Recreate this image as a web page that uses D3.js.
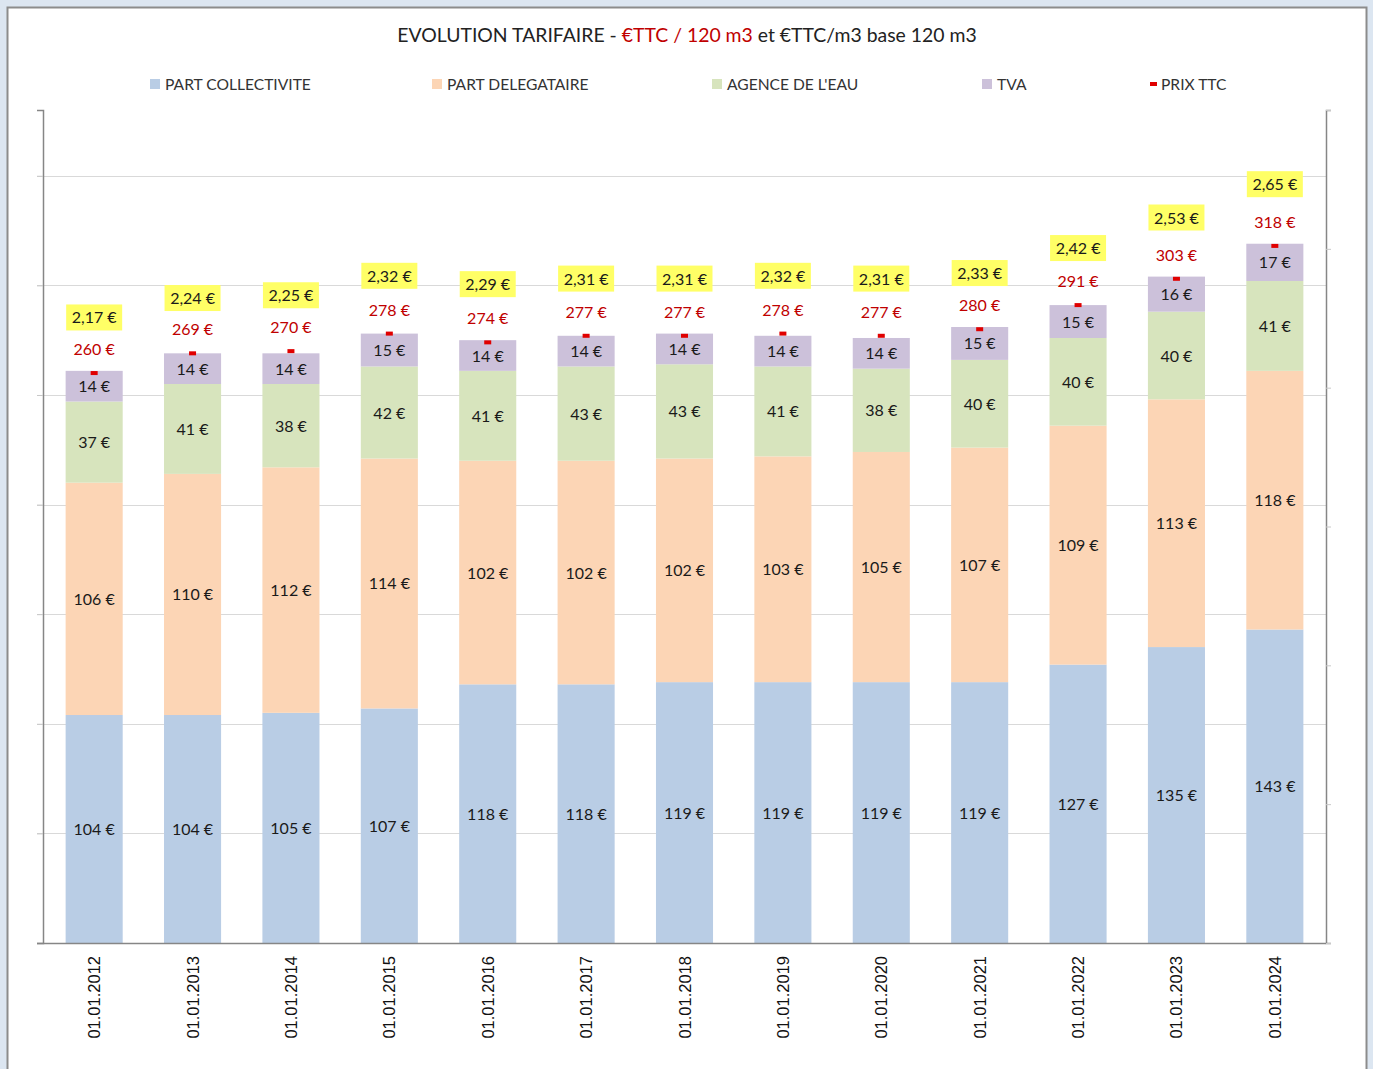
<!DOCTYPE html>
<html>
<head>
    <script src="https://d3js.org/d3.v7.min.js"></script>
    <style>
        body { margin: 0; background-color: #dce6f1; }
        text { font-family: Lato, "Open Sans", sans-serif; }
    </style>
</head>

<body>
<div id="mio_grafico"></div>

<script>
    // data
    var dates = ["01.01.2012","01.01.2013","01.01.2014","01.01.2015","01.01.2016","01.01.2017","01.01.2018",
                 "01.01.2019","01.01.2020","01.01.2021","01.01.2022","01.01.2023","01.01.2024"];
    var partCollectivite = [104,104,105,107,118,118,119,119,119,119,127,135,143];
    var partDelegataire  = [106,110,112,114,102,102,102,103,105,107,109,113,118];
    var agenceEau        = [37,41,38,42,41,43,43,41,38,40,40,40,41];
    var tva              = [14,14,14,15,14,14,14,14,14,15,15,16,17];
    var prixTTC          = [260,269,270,278,274,277,277,278,277,280,291,303,318];
    var prixM3           = [2.17,2.24,2.25,2.32,2.29,2.31,2.31,2.32,2.31,2.33,2.42,2.53,2.65];
    var seriesNames  = ["PART COLLECTIVITE","PART DELEGATAIRE","AGENCE DE L'EAU","TVA","PRIX TTC"];
    var seriesColors = ["#b9cde5","#fcd5b5","#d7e4bd","#ccc1da","#e00000"];
    var yTicks  = [0,50,100,150,200,250,300,350];
    var y2Ticks = [0,0.5,1,1.5,2,2.5,3];

    var W = 1373, H = 1069;
    var plot = {left: 43, right: 1326, top: 110, bottom: 943};

    var svg = d3.select("#mio_grafico")
            .append("svg")
            .attr("width", W)
            .attr("height", H)
            .style("display", "block");

    // white panel with gray frame
    svg.append("rect")
       .attr("x", 7.5).attr("y", 7.5)
       .attr("width", 1359).attr("height", H)
       .attr("fill", "white")
       .attr("stroke", "#8c8c8c")
       .attr("stroke-width", 2);

    // title
    var title = svg.append("text")
       .attr("x", 687).attr("y", 42)
       .attr("text-anchor", "middle")
       .style("font-size", "19.4px")
       .attr("fill", "#222");
    title.append("tspan").text("EVOLUTION TARIFAIRE - ");
    title.append("tspan").attr("fill", "#c00000").text("€TTC / 120 m3");
    title.append("tspan").text(" et €TTC/m3 base 120 m3");

    // legend
    var legendX = [150, 432, 712, 982, 1150];
    seriesNames.forEach(function(name, i) {
        var g = svg.append("g").attr("transform", "translate(" + legendX[i] + ",84)");
        if (i < 4) {
            g.append("rect").attr("x", 0).attr("y", -5).attr("width", 10).attr("height", 10)
             .attr("fill", seriesColors[i]);
        } else {
            g.append("rect").attr("x", 0).attr("y", -2).attr("width", 7).attr("height", 4)
             .attr("fill", seriesColors[i]);
        }
        g.append("text").attr("x", i < 4 ? 15 : 11).attr("y", 5.5)
         .style("font-size", "15.6px").attr("fill", "#333").text(name);
    });

    // scales
    var x = d3.scaleBand()
              .domain(dates)
              .range([plot.left, plot.right])
              .paddingInner(0.42)
              .paddingOuter(0.23);
    var y = d3.scaleLinear()
              .domain([0, 380])
              .range([plot.bottom, plot.top]);
    var y2 = d3.scaleLinear()
              .domain([0, 3])
              .range([plot.bottom, plot.top]);

    // gridlines
    svg.selectAll(".grid")
       .data(yTicks.slice(1))
       .enter()
       .append("line")
       .attr("x1", plot.left - 6).attr("x2", plot.right)
       .attr("y1", function(d) { return Math.round(y(d)) + 0.5; })
       .attr("y2", function(d) { return Math.round(y(d)) + 0.5; })
       .attr("stroke", "#d9d9d9")
       .attr("stroke-width", 1.2);

    // left axis (no labels)
    svg.append("g")
       .attr("transform", "translate(" + plot.left + ",0)")
       .call(d3.axisLeft(y).tickValues(yTicks).tickSize(6).tickFormat(""))
       .call(function(g) {
           g.select(".domain").attr("stroke", "#868686").attr("stroke-width", 1.5);
           g.selectAll(".tick line").attr("stroke", "#c8c8c8");
       });

    // right axis (secondary, no labels)
    svg.append("g")
       .attr("transform", "translate(" + plot.right + ",0)")
       .call(d3.axisRight(y2).tickValues(y2Ticks).tickSize(5).tickFormat(""))
       .call(function(g) {
           g.select(".domain").attr("stroke", "#868686").attr("stroke-width", 1.5);
           g.selectAll(".tick line").attr("stroke", "#c8c8c8");
       });

    // stacked data
    var rows = dates.map(function(d, i) {
        return {date: d, s0: partCollectivite[i], s1: partDelegataire[i], s2: agenceEau[i], s3: tva[i]};
    });
    var stack = d3.stack().keys(["s0","s1","s2","s3"])(rows);

    var layers = svg.selectAll(".layer")
       .data(stack)
       .enter()
       .append("g")
       .attr("fill", function(d, i) { return seriesColors[i]; });

    layers.selectAll("rect")
       .data(function(d) { return d; })
       .enter()
       .append("rect")
       .attr("x", function(d) { return x(d.data.date); })
       .attr("width", x.bandwidth())
       .attr("y", function(d) { return y(d[1]); })
       .attr("height", function(d) { return y(d[0]) - y(d[1]); });

    layers.selectAll("text")
       .data(function(d) { return d.map(function(v) { return {v: v, key: d.key}; }); })
       .enter()
       .append("text")
       .attr("x", function(d) { return x(d.v.data.date) + x.bandwidth() / 2; })
       .attr("y", function(d) { return (y(d.v[0]) + y(d.v[1])) / 2 + 6; })
       .attr("text-anchor", "middle")
       .attr("fill", "#1a1a1a")
       .style("font-size", "16px")
       .text(function(d) { return d.v.data[d.key] + " €"; });

    // x axis line
    svg.append("line")
       .attr("x1", plot.left - 6).attr("x2", plot.right)
       .attr("y1", plot.bottom + 0.5).attr("y2", plot.bottom + 0.5)
       .attr("stroke", "#868686").attr("stroke-width", 1.5);

    // x labels
    svg.selectAll(".xlab")
       .data(dates)
       .enter()
       .append("text")
       .attr("transform", function(d) {
           return "translate(" + (x(d) + x.bandwidth() / 2 + 6) + "," + (plot.bottom + 13) + ") rotate(-90)";
       })
       .attr("text-anchor", "end")
       .style("font-family", "'Liberation Sans', Arial, sans-serif")
       .style("font-size", "16.5px")
       .attr("fill", "#111")
       .text(function(d) { return d; });

    // prix TTC markers
    svg.selectAll(".marker")
       .data(prixTTC)
       .enter()
       .append("rect")
       .attr("x", function(d, i) { return x(dates[i]) + x.bandwidth() / 2 - 3.5; })
       .attr("y", function(d) { return y(d) - 2; })
       .attr("width", 7).attr("height", 4)
       .attr("fill", "#e00000");

    svg.selectAll(".prixlab")
       .data(prixTTC)
       .enter()
       .append("text")
       .attr("x", function(d, i) { return x(dates[i]) + x.bandwidth() / 2; })
       .attr("y", function(d) { return y(d) - 18; })
       .attr("text-anchor", "middle")
       .attr("fill", "#c00000")
       .style("font-size", "16px")
       .text(function(d) { return d + " €"; });

    // prix per m3 labels (secondary axis)
    var fmt = function(v) { return v.toFixed(2).replace(".", ",") + " €"; };
    var m3 = svg.selectAll(".m3lab")
       .data(prixM3)
       .enter()
       .append("g")
       .attr("transform", function(d, i) {
           return "translate(" + (x(dates[i]) + x.bandwidth() / 2) + "," + (y2(d) - 23) + ")";
       });
    m3.append("rect")
      .attr("x", -28).attr("y", -13)
      .attr("width", 56).attr("height", 26)
      .attr("fill", "#ffff66");
    m3.append("text")
      .attr("y", 6)
      .attr("text-anchor", "middle")
      .attr("fill", "#1a1a1a")
      .style("font-size", "16px")
      .text(fmt);
</script>
</body>
</html>
